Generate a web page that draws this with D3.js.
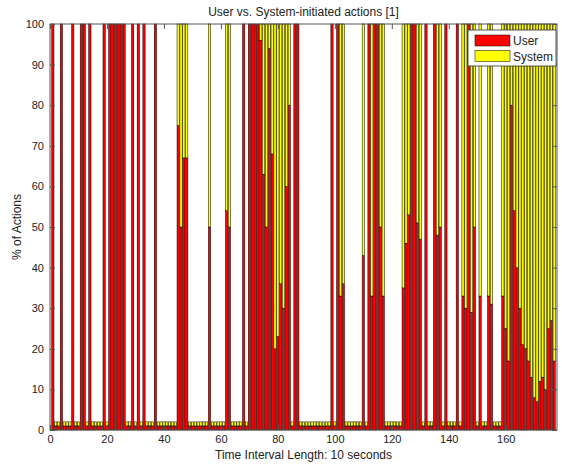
<!DOCTYPE html>
<html>
<head>
<meta charset="utf-8">
<script src="https://cdn.jsdelivr.net/npm/d3@7"></script>
<style>
  body { margin: 0; background: #fff; }
  text { font-family: Arial, "Liberation Sans", sans-serif; fill: #222; }
</style>
</head>
<body>
<div id="chart"></div>
<script>
// % of actions per 10 s interval
// (1 / 1 = empty interval, drawn as a tiny stub by the original plot)
var intervals = d3.range(1, 178);

var user = [
  100,1,1,100,1,1,1,100,1,1,
  100,100,1,100,1,1,1,1,100,1,
  100,100,100,100,100,100,1,1,100,1,
  100,1,100,1,1,1,100,1,1,1,
  1,1,1,1,75,50,67,67,1,1,
  1,1,1,1,1,50,1,1,1,1,
  1,54,50,1,1,1,1,100,1,100,
  100,100,100,96,63,50,94,68,20,23,
  36,30,60,80,1,100,100,1,1,1,
  1,1,1,1,1,1,1,1,100,1,
  100,33,36,1,1,1,1,1,1,43,
  1,100,33,100,100,50,33,1,1,1,
  1,1,1,35,46,53,100,100,51,47,
  1,100,1,1,100,48,50,1,100,1,
  1,1,100,1,33,30,100,29,50,1,
  33,1,1,33,31,1,1,1,33,25,
  17,80,54,40,30,21,20,17,13,8,
  7,12,13,10,25,27,17
];

var system = [
  0,1,1,0,1,1,1,0,1,1,
  0,0,1,0,1,1,1,1,0,1,
  0,0,0,0,0,0,1,1,0,1,
  0,1,0,1,1,1,0,1,1,1,
  1,1,1,1,25,50,33,33,1,1,
  1,1,1,1,1,50,1,1,1,1,
  1,46,50,1,1,1,1,0,1,0,
  0,0,0,4,37,50,6,32,80,77,
  64,70,40,20,1,0,0,1,1,1,
  1,1,1,1,1,1,1,1,0,1,
  0,67,64,1,1,1,1,1,1,57,
  1,0,67,0,0,50,67,1,1,1,
  1,1,1,65,54,47,0,0,49,53,
  1,0,1,1,0,52,50,1,0,1,
  1,1,0,1,67,70,0,71,50,1,
  67,1,1,67,69,1,1,1,67,75,
  83,20,46,60,70,79,80,83,87,92,
  93,88,87,90,75,73,83
];

var seriesNames = ["User", "System"];
var seriesColors = ["#ff0000", "#ffff00"];
var xTicks = [0, 20, 40, 60, 80, 100, 120, 140, 160];
var yTicks = [0, 10, 20, 30, 40, 50, 60, 70, 80, 90, 100];

var width = 562, height = 469;
var margin = {top: 24, right: 5, bottom: 39, left: 50};

var svg = d3.select("#chart").append("svg")
    .attr("width", width)
    .attr("height", height);

var x = d3.scaleLinear().domain([0, 178]).range([margin.left, width - margin.right]);
var y = d3.scaleLinear().domain([0, 100]).range([height - margin.bottom, margin.top]);
var barW = 0.8 * (x(1) - x(0));

var rows = intervals.map(function(d, i) {
  return {t: d, User: user[i], System: system[i]};
});
var stacked = d3.stack().keys(seriesNames)(rows);

svg.append("g")
  .selectAll("g")
  .data(stacked)
  .enter().append("g")
    .attr("fill", function(d, i) { return seriesColors[i]; })
  .selectAll("rect")
  .data(function(d) { return d; })
  .enter().append("rect")
    .attr("x", function(d) { return x(d.data.t) - barW / 2; })
    .attr("y", function(d) { return y(d[1]); })
    .attr("width", barW)
    .attr("height", function(d) { return y(d[0]) - y(d[1]); })
    .attr("stroke", "#000")
    .attr("stroke-width", 0.5);

// axes, MATLAB style: ticks point inward, on all four sides
var x0 = margin.left, x1 = width - margin.right;
var y0 = height - margin.bottom, y1 = margin.top;

svg.append("g")
    .attr("transform", "translate(0," + y0 + ")")
    .call(d3.axisBottom(x).tickValues(xTicks).tickSize(-5).tickPadding(5))
    .call(function(g) { g.select(".domain").remove(); });

svg.append("g")
    .attr("transform", "translate(" + x0 + ",0)")
    .call(d3.axisLeft(y).tickValues(yTicks).tickSize(-5).tickPadding(6))
    .call(function(g) { g.select(".domain").remove(); });

svg.append("g")
    .attr("transform", "translate(0," + y1 + ")")
    .call(d3.axisTop(x).tickValues(xTicks).tickSize(-5).tickFormat(""))
    .call(function(g) { g.select(".domain").remove(); });

svg.append("g")
    .attr("transform", "translate(" + x1 + ",0)")
    .call(d3.axisRight(y).tickValues(yTicks).tickSize(-5).tickFormat(""))
    .call(function(g) { g.select(".domain").remove(); });

svg.selectAll(".tick text").attr("font-size", 11).attr("font-family", "Arial, 'Liberation Sans', sans-serif").attr("fill", "#222");
svg.selectAll(".tick line").attr("stroke", "#555");

svg.append("rect")
    .attr("x", x0).attr("y", y1)
    .attr("width", x1 - x0).attr("height", y0 - y1)
    .attr("fill", "none")
    .attr("stroke", "#555")
    .attr("stroke-width", 1);

// labels
svg.append("text")
    .attr("x", (x0 + x1) / 2).attr("y", 16)
    .attr("text-anchor", "middle")
    .attr("font-size", 12)
    .text("User vs. System-initiated actions [1]");

svg.append("text")
    .attr("x", (x0 + x1) / 2).attr("y", 459)
    .attr("text-anchor", "middle")
    .attr("font-size", 12)
    .text("Time Interval Length: 10 seconds");

svg.append("text")
    .attr("transform", "translate(21," + ((y0 + y1) / 2) + ") rotate(-90)")
    .attr("text-anchor", "middle")
    .attr("font-size", 12)
    .text("% of Actions");

// legend
var legend = svg.append("g").attr("transform", "translate(468,30)");
legend.append("rect")
    .attr("width", 88).attr("height", 36)
    .attr("fill", "#fff")
    .attr("stroke", "#333")
    .attr("stroke-width", 0.8);

var item = legend.selectAll(".item")
    .data(seriesNames)
    .enter().append("g")
    .attr("class", "item")
    .attr("transform", function(d, i) { return "translate(7," + (5 + i * 15.5) + ")"; });

item.append("rect")
    .attr("width", 35).attr("height", 11)
    .attr("fill", function(d, i) { return seriesColors[i]; })
    .attr("stroke", "#000")
    .attr("stroke-width", 0.5);

item.append("text")
    .attr("x", 38).attr("y", 10)
    .attr("font-size", 12)
    .text(function(d) { return d; });
</script>
</body>
</html>
